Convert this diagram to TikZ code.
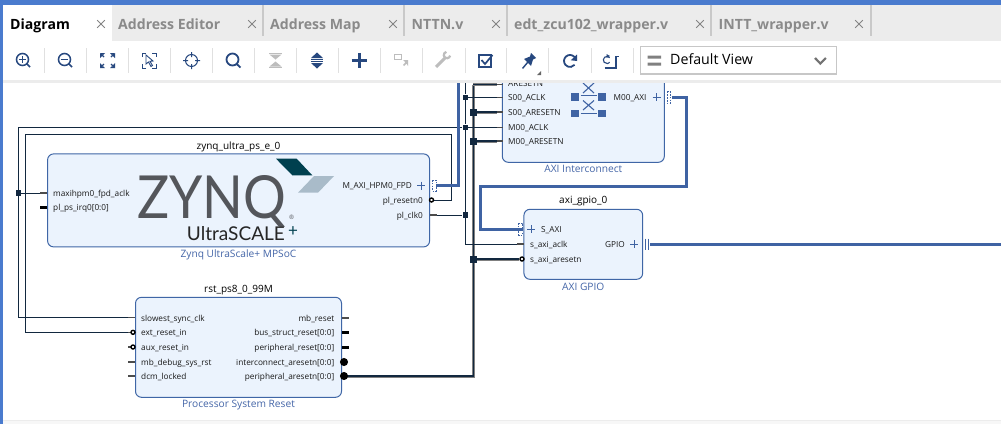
\documentclass[tikz,border=0pt]{standalone}
\usepackage{fontspec}
\usepackage{graphicx}
\setmainfont{Open Sans}
\newfontfamily\logofont{Lato}
\usetikzlibrary{calc}
\definecolor{chromeblue}{HTML}{4A7BCE}
\definecolor{tabgrey}{HTML}{ECECEC}
\definecolor{tabline}{HTML}{C9C9C9}
\definecolor{tabtext}{HTML}{8A8A8A}
\definecolor{iconblue}{HTML}{27487F}
\definecolor{icongrey}{HTML}{BDBDBD}
\definecolor{blockfill}{HTML}{EBF3FD}
\definecolor{blockline}{HTML}{3F66A6}
\definecolor{wirecol}{HTML}{12283F}
\definecolor{axicol}{HTML}{3F63A3}
\definecolor{subcol}{HTML}{4566A8}
\definecolor{logogrey}{HTML}{54565B}
\definecolor{logoteal}{HTML}{00404F}
\definecolor{logopale}{HTML}{A9BBC9}
\tikzset{
  x=1pt,y=-1pt,
  block/.style={draw=blockline,line width=1pt,fill=blockfill,rounded corners=6pt,inner sep=0},
  porttext/.style={font=\fontsize{8.25}{10}\selectfont,inner sep=0,text height=8pt,text depth=1pt,text=black!90},
  blocktitle/.style={font=\fontsize{10}{12}\selectfont,inner sep=0,text height=9pt,text depth=2pt,text=black},
  blocksub/.style={font=\fontsize{10.2}{12}\selectfont,inner sep=0,text height=10pt,text depth=2pt,text=subcol},
  tabtitle/.style={font=\fontsize{14.1}{16}\selectfont\bfseries,inner sep=0,text height=10pt,text depth=3pt,text=tabtext,anchor=west},
  tabclose/.style={icongrey!70!black,line width=1pt},
  wire/.style={draw=wirecol,line width=1pt},
  resetbus/.style={draw=wirecol,line width=1.1pt,preaction={draw=black!50,line width=3pt}},
  axibus/.style={draw=axicol,line width=3pt},
  tickthin/.style={draw=black!70,line width=1.6pt},
  tickbus/.style={draw=black,line width=3pt},
  junction/.style={fill=wirecol,minimum size=5.5pt,inner sep=0},
  bigjunction/.style={fill=wirecol,minimum size=7pt,inner sep=0},
  bubble/.style={circle,draw=black,line width=1.4pt,fill=white,minimum size=4pt,inner sep=0},
  busbubble/.style={circle,draw=black,line width=1pt,fill=black,minimum size=7pt,inner sep=0},
  plus/.style={draw=axicol,line width=1pt},
  dotted box/.style={draw=axicol,line width=.9pt,dash pattern=on 1.6pt off 1.2pt},
  ic/.style={draw=iconblue,line width=1.5pt},
  icfill/.style={fill=iconblue},
  icg/.style={draw=icongrey,line width=1.5pt},
  sep/.style={draw=tabgrey!95!black,line width=1pt},
  xsquare/.style={fill=axicol,minimum size=7.5pt,inner sep=0}
}
\begin{document}
\begin{tikzpicture}
\useasboundingbox (0,0) rectangle (1001,424);
\fill[white] (0,0) rectangle (1001,424);

% ---------- blocks
\node[block,minimum width=382pt,minimum height=93pt] (zynq) at (238.6,200.4) {};
\node[block,minimum width=206pt,minimum height=100pt] (rst) at (238.5,347.3) {};
\node[block,minimum width=162pt,minimum height=120pt] (axii) at (583.3,102.3) {};
\node[block,minimum width=118.7pt,minimum height=70pt] (gpio) at (583.3,244.3) {};

% ---------- port anchors
\coordinate (zAclk) at (40,193);
\coordinate (zIrq) at (40,207);
\coordinate (zHpm) at (436,185.5);
\coordinate (zRes) at (432,200);
\coordinate (zClk) at (437,215);
\coordinate (rSlow) at (128,317.3);
\coordinate (rExt) at (128,332.3);
\coordinate (rAux) at (128,347);
\coordinate (rDbg) at (128,362);
\coordinate (rDcm) at (128,376);
\coordinate (rMb) at (348.5,318);
\coordinate (rBus) at (348.5,332);
\coordinate (rPer) at (348.5,347);
\coordinate (rIc) at (344,362);
\coordinate (rPa) at (344,376);
\coordinate (aArst) at (497,84.5);
\coordinate (aSclk) at (497,97.3);
\coordinate (aSrst) at (497,112);
\coordinate (aMclk) at (497,127.3);
\coordinate (aMrst) at (497,141);
\coordinate (aAxi) at (671.5,97.3);
\coordinate (gAxi) at (522.5,229);
\coordinate (gClk) at (517,244);
\coordinate (gRst) at (519,259);
\coordinate (gOut) at (650,244);
\coordinate (edgeR) at (1001,244);
\coordinate (busTopA) at (458.5,80);
\coordinate (clkTop) at (465.3,80);
\coordinate (busTop) at (473.3,84.5);
\coordinate (loopA) at (18.5,127.3);
\coordinate (loopB) at (25.5,134.3);
\coordinate (loopC) at (451.7,134.3);
\coordinate (axiK1) at (686.7,186);
\coordinate (axiK2) at (480.7,229);

% ---------- junctions
\node[junction] (jA) at (18.5,193) {};
\node[junction] (jS) at (465.3,97.3) {};
\node[junction] (jM) at (465.3,127.3) {};
\node[junction] (jC) at (465.3,215) {};
\coordinate (jClkEnd) at (465.3,244);
\coordinate (jbBot) at (473.3,376);
\coordinate (jb0) at (473.3,84.5);

% ---------- connectors
\draw[resetbus] (jb0) -- (jbBot) -- (rPa);
\draw[resetbus] (jb0) -- (aArst);
\draw[resetbus] (473.3,112) coordinate (jb1) -- (aSrst);
\draw[resetbus] (473.3,141) coordinate (jb2) -- (aMrst);
\draw[resetbus] (473.3,259) coordinate (jb3) -- (gRst);
\node[bigjunction] (jR1) at (jb1) {};
\node[bigjunction] (jR2) at (jb2) {};
\node[bigjunction] (jR3) at (jb3) {};
\draw[wire] (zAclk) -- (jA);
\draw[wire] (rSlow) -| (loopA) -- (jM);
\draw[wire] (jM) -- (aMclk);
\draw[wire] (clkTop) -- (jS) -- (jM) -- (jC) -- (jClkEnd) -- (gClk);
\draw[wire] (jS) -- (aSclk);
\draw[wire] (zClk) -- (jC);
\draw[wire] (rExt) -| (loopB) -- (loopC) |- (zRes);
\draw[axibus] (zHpm) -| (busTopA);
\draw[axibus] (aAxi) -| (axiK1) -| (axiK2) |- (gAxi);
\draw[axibus] (gOut) -- (edgeR);

% ---------- stubs and bubbles
\foreach \c in {zAclk,rSlow,rDbg,rDcm}{\draw[tickthin] (\c) -- ++(7,0);}
\draw[tickbus] (zIrq) -- ++(7,0);
\draw[tickthin] (zClk) -- ++(-7,0);
\foreach \c in {aArst,aSclk,aSrst,aMclk,aMrst}{\draw[tickthin] (\c) -- ++(5.5,0);}
\draw[tickthin] (gClk) -- ++(7,0);
\draw[tickthin] (rMb) -- ++(-7,0);
\draw[tickbus] (rBus) -- ++(-7,0);
\draw[tickbus] (rPer) -- ++(-7,0);
\foreach \c in {rExt,rAux}{\draw[tickthin] (\c) -- ++(3,0);}
\node[bubble] (bExt) at (133,332.3) {};
\node[bubble] (bAux) at (133,347) {};
\node[bubble] (bRes) at (431.5,200) {};
\node[bubble] (bRst) at (522,259) {};
\node[busbubble] (bIc) at (rIc) {};
\node[busbubble] (bPa) at (rPa) {};
\draw[draw=axicol,line width=.8pt] (645.8,238.5) -- (645.8,249.5) (648.6,238.5) -- (648.6,249.5);

% ---------- bus interface marks
\draw[dotted box] (432.3,180) rectangle (436,191);
\draw[dotted box] (667,91.5) rectangle (670.5,103);
\draw[dotted box] (518.5,223) rectangle (522.5,235);
\draw[plus] (417,185.5) -- (425,185.5) (421,181.5) -- (421,189.5);
\draw[plus] (652.5,97.3) -- (660.7,97.3) (656.6,93.2) -- (656.6,101.4);
\draw[plus] (527,229) -- (535,229) (531,225) -- (531,233);
\draw[plus] (630,244) -- (638,244) (634,240) -- (634,248);

% ---------- interconnect symbol
\foreach \n/\a/\b in {sq1/575/97,sq2/602/97,sq3/575/113.7,sq4/602/113.7,sq5/575/79.5,sq6/602/79.5}{\node[xsquare] (\n) at (\a,\b) {};}
\draw[axicol,line width=1pt] (580.7,95.7) -- (596.7,95.7) (580.7,113) -- (596.7,113);
\draw[axicol,line width=1.1pt] (583,83) -- (594,93) (594,83) -- (583,93) (583,100.5) -- (594,110) (594,100.5) -- (583,110);

% ---------- logo
\fill[logoteal] (276,158.7) -- (296.7,158.7) -- (312.3,175.3) -- (292.3,175.3) -- cycle;
\fill[logopale] (314,176) -- (334,176) -- (318,192.7) -- (298,192.7) -- cycle;
\node[inner sep=0,anchor=base west,text=logogrey] (logoz) at (137.3,218) {\resizebox{149pt}{43pt}{\logofont ZYNQ}};
\node[inner sep=0,anchor=center,text=logogrey,font=\fontsize{6}{6}\selectfont] (logor) at (291.5,217.5) {®};
\node[inner sep=0,anchor=base west,text=black!85] (logou) at (186.7,240.7) {\resizebox{98pt}{14pt}{\logofont UltraSCALE}};
\node[inner sep=0,anchor=center,text=logoteal,font=\fontsize{17}{17}\selectfont\logofont] (logop) at (293,232) {+};

% ---------- block texts
\node[blocktitle] (tz) at (238.5,146) {zynq\_ultra\_ps\_e\_0};
\node[blocksub] (sz) at (238.5,253) {Zynq UltraScale+ MPSoC};
\node[blocktitle] (tr) at (238.5,289) {rst\_ps8\_0\_99M};
\node[blocksub] (sr) at (238.5,403) {Processor System Reset};
\node[blocksub] (sa) at (583.3,168) {AXI Interconnect};
\node[blocktitle] (tg) at (583.3,200) {axi\_gpio\_0};
\node[blocksub] (sg) at (583.3,286) {AXI GPIO};

\node[porttext,anchor=west] (p1) at (53,193) {maxihpm0\_fpd\_aclk};
\node[porttext,anchor=west] (p2) at (53,207) {pl\_ps\_irq0[0:0]};
\node[porttext,anchor=east] (p3) at (412,185) {M\_AXI\_HPM0\_FPD};
\node[porttext,anchor=east] (p4) at (423,200) {pl\_resetn0};
\node[porttext,anchor=east] (p5) at (423,215) {pl\_clk0};
\node[porttext,anchor=west] (p6) at (141,318) {slowest\_sync\_clk};
\node[porttext,anchor=west] (p7) at (141,332) {ext\_reset\_in};
\node[porttext,anchor=west] (p8) at (141,347) {aux\_reset\_in};
\node[porttext,anchor=west] (p9) at (141,362) {mb\_debug\_sys\_rst};
\node[porttext,anchor=west] (p10) at (141,376) {dcm\_locked};
\node[porttext,anchor=east] (p11) at (334.5,318) {mb\_reset};
\node[porttext,anchor=east] (p12) at (334.5,332) {bus\_struct\_reset[0:0]};
\node[porttext,anchor=east] (p13) at (334.5,347) {peripheral\_reset[0:0]};
\node[porttext,anchor=east] (p14) at (334.5,362) {interconnect\_aresetn[0:0]};
\node[porttext,anchor=east] (p15) at (334.5,376) {peripheral\_aresetn[0:0]};
\node[porttext,anchor=west] (p16) at (508,82.5) {ARESETN};
\node[porttext,anchor=west] (p17) at (508,97) {S00\_ACLK};
\node[porttext,anchor=west] (p18) at (508,112) {S00\_ARESETN};
\node[porttext,anchor=west] (p19) at (508,126.5) {M00\_ACLK};
\node[porttext,anchor=west] (p20) at (508,141) {M00\_ARESETN};
\node[porttext,anchor=east] (p21) at (646.7,97) {M00\_AXI};
\node[porttext,anchor=west] (p22) at (541,229) {S\_AXI};
\node[porttext,anchor=west] (p23) at (530,244) {s\_axi\_aclk};
\node[porttext,anchor=west] (p24) at (530,259) {s\_axi\_aresetn};
\node[porttext,anchor=east] (p25) at (625,244) {GPIO};

% ---------- window chrome (covers the top of the canvas)
\fill[white] (0,0) rectangle (1001,80);
\fill[tabgrey] (0,80) rectangle (1001,83);
\fill[tabgrey] (0,5) rectangle (1001,41);
\fill[white] (3,5) rectangle (112,41);
\fill[chromeblue] (0,0) rectangle (1001,5);
\fill[chromeblue] (0,0) rectangle (3,424);
\fill[tabgrey] (3,420) rectangle (1001,421);
\fill[black!3] (3,421) rectangle (1001,424);
\foreach \x in {263,404,507,711,871}{\fill[tabline] (\x-1,5) rectangle (\x+1,36);}

\node[tabtitle,text=black] (tab1) at (10,25.8) {Diagram};
\node[tabtitle] (tab2) at (118,25.8) {Address Editor};
\node[tabtitle] (tab3) at (270,25.8) {Address Map};
\node[tabtitle] (tab4) at (411.5,25.8) {NTTN.v};
\node[tabtitle] (tab5) at (514,25.8) {edt\_zcu102\_wrapper.v};
\node[tabtitle] (tab6) at (718.5,25.8) {INTT\_wrapper.v};
\foreach \x in {101,252,393,496,700,859}{\draw[tabclose] (\x-3.8,24-3.8) -- (\x+3.8,24+3.8) (\x-3.8,24+3.8) -- (\x+3.8,24-3.8);}

% toolbar separators
\foreach \x in {44.5,86.5,128.5,170.5,212.5,254.5,296.5,338.5,380.5,422.5,465,506,548,591,633}{\draw[sep] (\x,48) -- (\x,73);}
% zoom in
\draw[ic] (22.5,59.5) circle (6pt) (27,64) -- (30,67);
\draw[iconblue,line width=1pt] (19.3,59.5) -- (25.7,59.5) (22.5,56.3) -- (22.5,62.7);
% zoom out
\draw[ic] (64.5,59.5) circle (6pt) (69,64) -- (72,67);
\draw[iconblue,line width=1pt] (61.3,59.5) -- (67.7,59.5);
% fit
\foreach \sx/\sy in {-1/-1,1/-1,-1/1,1/1}{\fill[iconblue] ($(107.5,60.5)+(\sx*7.5,\sy*7.5)$) -- ++(-\sx*5,0) -- ++(\sx*2,-\sy*2) -- ++(\sx*3,\sy*2)  -- cycle; \fill[iconblue] ($(107.5,60.5)+(\sx*7.5,\sy*7.5)$) -- ++(0,-\sy*5) -- ++(-\sx*2.5,\sy*2.5) -- cycle; \draw[iconblue,line width=1.2pt] ($(107.5,60.5)+(\sx*7,\sy*7)$) -- ++(-\sx*3.5,-\sy*3.5);}
% select area
\draw[iconblue,line width=1pt] (142,57) |- (146,53) (152,53) -| (156,57) (156,64) |- (152,68) (146,68) -| (142,64);
\draw[iconblue,line width=.9pt] (146,55) -- (146,64) -- (148.5,62) -- (151,66.5) -- (152.5,65.5) -- (150,61.3) -- (153,61) -- cycle;
% crosshair
\draw[iconblue,line width=1pt] (191.5,60.5) circle (6pt) (191.5,52) -- (191.5,57) (191.5,64) -- (191.5,69) (183,60.5) -- (188,60.5) (195,60.5) -- (200,60.5);
% search
\draw[ic,line width=1.8pt] (232.5,59.5) circle (6pt) (237,64.3) -- (240.5,67.5);
% collapse
\draw[icongrey,line width=1.3pt] (269,53.5) -- (282,53.5) (269,67.5) -- (282,67.5);
\fill[icongrey] (269.5,54.5) -- (281.5,54.5) -- (275.5,59.5) -- cycle (269.5,66.5) -- (281.5,66.5) -- (275.5,61.5) -- cycle;
% expand
\fill[iconblue] (311,58) -- (323,58) -- (317,52.5) -- cycle (311,63) -- (323,63) -- (317,68.5) -- cycle;
\draw[iconblue,line width=1.2pt] (311,59.5) -- (323,59.5) (311,61.5) -- (323,61.5);
% plus
\draw[iconblue,line width=2.6pt] (351.5,60.5) -- (367,60.5) (359.2,52.8) -- (359.2,68.2);
% route
\draw[icongrey,line width=.9pt] (394,54.5) rectangle (401,59.5);
\fill[icongrey] (403,60) -- (408,60) -- (408,66) -- (406.5,63.5) -- (404,66) -- (403,65) -- (405.3,62.3) -- cycle;
% wrench
\draw[icongrey,line width=3pt] (436,67) -- (445,58);
\draw[icongrey,line width=2.2pt] (446.4,51.9) arc (100:350:3.2pt);
% validate
\draw[iconblue,line width=1.2pt] (479,55) rectangle (491,67);
\draw[iconblue,line width=1.7pt] (481.5,60) -- (485,64) -- (492.5,55);
% pin
\fill[iconblue] (531,53) -- (536,58) -- (533,59.5) -- (531,66) -- (528,63) -- (523,69) -- (522,68) -- (527,62) -- (524,59) -- (530,56.5) -- cycle;
\fill[black!60] (541,71) -- (541,75) -- (537,75) -- cycle;
% refresh
\draw[iconblue,line width=1.8pt] (574.6,57.1) arc (40:320:6pt);
\fill[iconblue] (577,54.5) -- (577,61) -- (570.8,60.3) -- cycle;
% regenerate
\draw[iconblue,line width=1.1pt] (609.7,57.7) arc (40:320:3.6pt);
\fill[iconblue] (606.5,54) -- (610,56) -- (606.5,58) -- cycle;
\draw[iconblue,line width=1.2pt] (604.6,68) -- (616,68) -- (616,56.3) -- (619,56.3);

% view selector
\node[draw=black!22,line width=1.2pt,fill=white,minimum width=196pt,minimum height=27.5pt,inner sep=0,anchor=west] (viewbox) at (640,60.3) {};
\fill[black!50] (647.5,55.5) rectangle (661,58.5) (647.5,62.5) rectangle (661,65.5);
\node[inner sep=0,anchor=west,font=\fontsize{14.2}{16}\selectfont,text height=10pt,text depth=3pt,text=black] (viewt) at (670,61) {Default View};
\draw[black!55,line width=2.2pt] (815,58) -- (820.3,63.5) -- (825.8,58);
\end{tikzpicture}
\end{document}
